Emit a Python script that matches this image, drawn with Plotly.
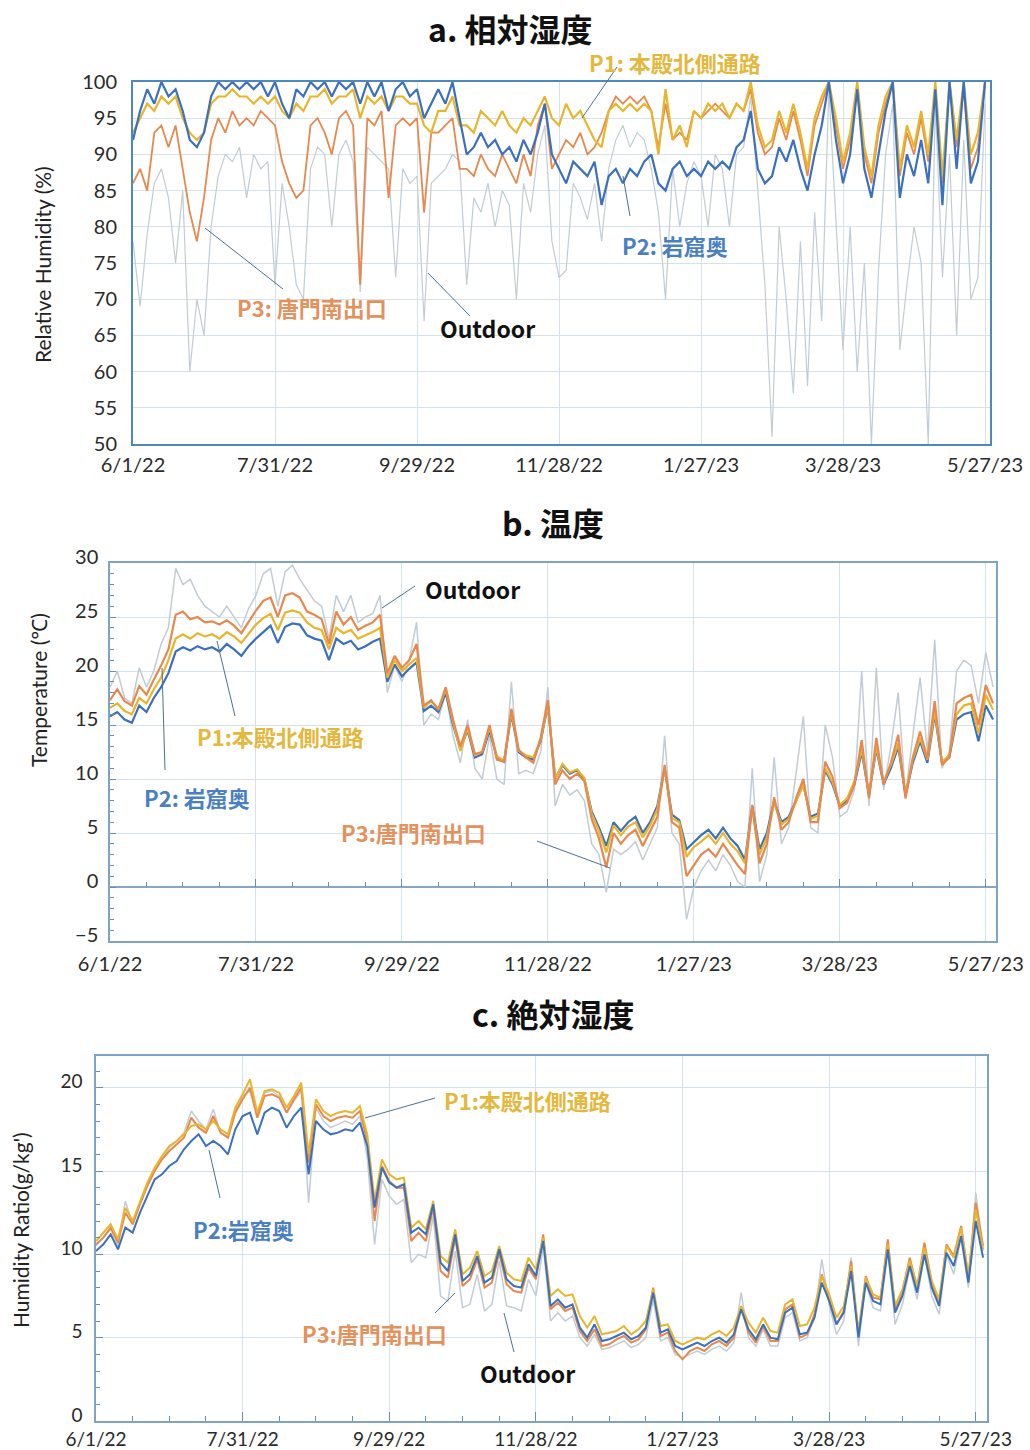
import pandas as pd
import plotly.graph_objects as go

BASE = pd.Timestamp("2022-06-01")
W, H = 1030, 1450

tick_days = [0, 60, 120, 180, 240, 300, 360]
tick_labels = ["6/1/22", "7/31/22", "9/29/22", "11/28/22", "1/27/23", "3/28/23", "5/27/23"]

# ---------------- a. relative humidity (%), every 3 days ----------------
rh_days = list(range(0, 361, 3))
rh_p2 = [92, 96, 99, 97, 100, 98, 99, 96, 92, 91, 93, 98, 100, 99, 100, 99, 100, 99, 100, 98,
         100, 97, 95, 99, 98, 100, 99, 100, 98, 100, 99, 100, 97, 100, 98, 100, 96, 99, 100, 98,
         99, 95, 97, 99, 97, 100, 95,
         90, 91, 93, 91, 92, 90, 91, 89, 92, 90, 93, 97, 90, 88,
         86, 89, 88, 87, 89, 83, 87, 88, 86, 88, 87, 89, 90, 86, 85, 88, 89, 87, 88, 87,
         89, 88, 89, 88, 91, 92, 96,
         88, 86, 87, 91, 89, 92, 88, 85, 90, 94, 100, 92, 86, 90, 99, 88, 84, 90, 96, 100,
         84, 90, 87, 92, 86, 99, 83, 100, 88, 100, 86, 89, 100]
rh_p1 = [93, 95, 97, 96, 98, 97, 98, 95, 93, 92, 93, 97, 98, 98, 99, 98, 98, 97, 98, 97,
         98, 96, 95, 97, 96, 98, 98, 99, 97, 98, 98, 99, 95, 98, 97, 98, 96, 98, 98, 97,
         97, 94, 93, 96, 96, 98, 94,
         94, 93, 96, 95, 94, 96, 94, 93, 95, 94, 96, 98, 95, 94,
         97, 95, 96, 94, 92, 91, 96, 97, 96, 97, 96, 97, 96, 90, 99, 92, 94, 91, 96, 95,
         97, 96, 97, 95, 97, 96, 100,
         94, 91, 92, 96, 93, 97, 93, 88, 95, 98, 100, 95, 89, 93, 100, 91, 87, 94, 98, 100,
         88, 94, 91, 96, 90, 100, 87, 100, 92, 100, 90, 93, 100]
rh_p3 = [86, 88, 85, 93, 94, 91, 94, 88, 82, 78, 84, 92, 95, 93, 96, 94, 95, 94, 96, 95,
         94, 89, 86, 84, 85, 94, 95, 93, 90, 95, 96, 94, 72, 95, 94, 96, 84, 94, 95, 94,
         95, 82, 93, 93, 94, 95, 88,
         88, 87, 90, 88, 87, 90, 88, 86, 90, 87, 94, 97, 88, 90,
         92, 91, 93, 90, 91, 93, 96, 98, 97, 98, 97, 98, 96, 91, 97, 92, 93, 92, 96, 95,
         96, 97, 96, 95, 97, 96, 99,
         93, 90, 91, 95, 92, 96, 92, 87, 94, 97, 100, 94, 88, 92, 99, 90, 86, 93, 97, 100,
         87, 93, 90, 95, 89, 99, 86, 100, 91, 99, 88, 91, 100]
rh_out = [78, 69, 79, 86, 88, 84, 75, 85, 60, 70, 65, 80, 87, 90, 89, 91, 84, 90, 88, 89,
          72, 86, 80, 72, 70, 88, 91, 90, 80, 90, 92, 89, 71, 91, 90, 89, 88, 73, 88, 86,
          87, 67, 86, 87, 88, 90, 89,
          72, 84, 82, 86, 80, 85, 83, 70, 86, 82, 90, 94, 78, 73,
          74, 86, 84, 81, 86, 78, 88, 92, 94, 91, 93, 92, 88, 82, 70, 88, 80, 86, 89, 87,
          80, 90, 88, 80, 90, 91, 98,
          85, 72, 51, 80, 70, 57, 78, 58, 82, 67, 99, 80, 63, 80, 60, 75, 50, 74, 90, 97,
          63, 72, 80, 75, 50, 97, 73, 90, 65, 92, 70, 73, 97]

# ---------------- b. temperature (°C), every 3 days ----------------
t_days = list(range(0, 364, 3))
t_p2 = [15.8, 16.2, 15.5, 15.2, 16.8, 16.2, 17.5, 18.5,
        19.8, 21.8, 22.2, 21.9, 22.3, 22.0, 22.2, 21.8, 22.5, 22.0, 21.4, 22.3,
        23.0, 23.6, 24.2, 22.6, 24.1, 24.4, 24.3, 23.3, 23.0, 22.8,
        21.0, 23.0, 22.5, 22.8, 22.0, 22.3, 22.7, 23.0,
        19.0, 20.6, 19.5, 20.2, 20.8, 16.3, 16.8, 16.2, 18.0, 15.0, 12.8, 14.5, 12.0, 12.3,
        14.5, 12.0, 11.6, 16.0, 12.5, 12.0, 11.8, 13.5,
        16.8, 10.0, 11.3, 10.5, 10.8, 10.0, 7.0, 5.5, 3.8, 6.0, 5.2, 6.0, 6.5, 5.0, 6.0, 7.5,
        11.0, 6.7, 6.2, 3.5, 4.2, 4.8, 5.3, 4.5, 5.5, 4.5, 3.8, 2.5,
        7.5, 3.5, 5.0, 8.0, 6.0, 6.5, 8.0, 9.5, 6.5, 6.8, 10.8, 9.5, 7.5, 8.0, 9.5, 12.5, 8.5,
        12.8, 9.5, 11.0, 13.0, 8.5, 11.5, 13.5, 11.5, 16.0, 11.5, 12.0, 15.5, 16.0, 16.2, 13.5,
        16.8, 15.5]
t_p1 = [16.6, 17.0, 16.3, 16.0, 17.5, 17.0, 18.3, 19.4,
        21.0, 23.0, 23.4, 23.0, 23.5, 23.2, 23.4, 23.0, 23.6, 23.2, 22.6, 23.5,
        24.3, 24.9, 25.3, 23.8, 25.4, 25.6, 25.4, 24.5, 24.0, 23.8,
        22.0, 24.0, 23.5, 23.8, 23.0, 23.3, 23.6, 24.0,
        19.4, 21.0, 20.0, 20.6, 21.2, 16.6, 17.2, 16.5, 18.3, 15.3, 12.6, 14.7, 12.2, 12.5,
        14.8, 12.1, 11.7, 16.2, 12.6, 12.2, 12.0, 13.6,
        16.9, 10.0, 11.4, 10.6, 10.9, 10.1, 6.8, 5.2, 3.2, 5.7, 4.8, 5.6, 6.0, 4.6, 5.7, 7.2,
        11.0, 6.4, 6.0, 2.8, 3.7, 4.2, 4.8, 4.0, 5.0, 4.0, 3.3, 2.2,
        7.3, 3.0, 4.6, 7.8, 5.8, 6.3, 7.9, 9.5, 6.3, 6.6, 11.0, 9.7, 7.6, 8.2, 9.8, 12.8, 8.6,
        13.0, 9.7, 11.3, 13.3, 8.6, 11.8, 13.8, 11.8, 16.3, 11.6, 12.2, 16.0, 16.8, 17.0, 14.2,
        17.8, 16.4]
t_p3 = [17.3, 18.3, 17.2, 16.8, 18.6, 17.8, 19.2, 20.5,
        22.0, 25.2, 25.5, 24.8, 25.0, 24.5, 24.6, 24.3, 24.7, 24.2, 23.5, 24.6,
        25.6, 26.5, 26.8, 25.0, 27.0, 27.2, 26.8, 25.5, 25.2, 24.8,
        22.5, 25.5, 24.3, 25.0, 23.8, 24.2, 24.5, 25.2,
        19.8, 21.4, 20.3, 21.0, 22.5, 16.8, 17.3, 16.4, 18.5, 15.5, 13.0, 15.0, 12.3, 12.5,
        15.0, 11.8, 11.6, 16.5, 12.7, 12.0, 11.5, 13.8,
        17.3, 9.5, 10.8, 10.0, 10.5, 9.8, 6.3, 4.5, 1.8, 5.0, 4.0, 4.8, 5.3, 3.8, 5.2, 6.5,
        11.3, 6.0, 5.5, 1.0, 2.0, 3.0, 3.5, 2.8, 4.0, 3.0, 2.0, 1.2,
        7.6, 2.2, 4.0, 8.3, 5.3, 6.0, 8.2, 10.0, 6.0, 6.0, 11.6, 10.2, 7.3, 7.8, 9.5, 13.6, 8.2,
        13.8, 9.5, 11.5, 14.1, 8.2, 12.0, 14.4, 11.9, 17.2, 11.3, 12.0, 17.0, 17.5, 17.8, 15.0,
        18.7, 17.0]
t_out = [18.5, 20.0, 17.5, 17.0, 20.3, 18.5, 20.0, 22.5,
         24.0, 29.5, 28.0, 28.5, 27.0, 26.0, 25.5, 25.0, 26.0, 25.0, 24.0, 25.8,
         27.0, 29.0, 29.5, 26.0, 29.2, 29.8, 28.5, 27.5, 26.5, 26.0,
         23.0, 27.0, 25.5, 27.0, 24.5, 25.0, 25.3, 27.0,
         18.0, 20.5, 19.0, 21.0, 24.5, 15.0, 16.0, 15.5, 18.0, 14.0, 11.5, 15.5, 11.0, 10.0,
         14.0, 10.0, 9.5, 19.0, 10.5, 10.8, 10.5, 12.5,
         18.5, 7.5, 9.5, 8.5, 9.0, 8.0, 4.0, 3.0, -0.5, 3.5, 3.0, 3.5, 4.2, 2.5, 4.0, 5.5,
         14.0, 5.0, 4.0, -3.0, 0.0, 1.5, 2.5, 1.5, 3.0, 2.0, 0.5, 0.0,
         11.0, 0.5, 3.0, 12.0, 4.0, 5.5, 10.5, 15.8, 5.5, 5.0, 15.0, 12.0, 6.5, 7.0, 9.0, 20.0, 7.5,
         20.3, 9.0, 13.0, 18.0, 8.5, 14.0, 19.4, 12.5, 22.9, 11.0, 12.5, 20.0, 21.0, 20.5, 17.0,
         21.7, 18.5]

# ---------------- c. humidity ratio (g/kg'), every 3 days ----------------
hr_days = list(range(0, 364, 3))
hr_p2 = [10.2, 10.6, 11.2, 10.3, 11.6, 11.3, 12.5, 13.5,
         14.5, 14.8, 15.3, 15.6, 16.3, 16.8, 17.2, 16.5, 16.8, 16.5, 16.0, 17.5,
         18.3, 18.5, 17.2, 18.5, 18.8, 18.6, 17.6, 18.3, 18.8, 14.8,
         18.0, 17.5, 17.2, 17.3, 17.5, 17.4, 17.9, 16.5,
         12.8, 15.2, 14.3, 14.0, 14.2, 11.3, 11.6, 11.2, 13.0, 9.5, 9.0, 11.2, 8.4, 8.8,
         9.9, 8.3, 8.6, 10.3, 8.5, 8.1, 8.0, 9.4,
         8.7, 10.8, 6.9, 7.3, 6.8, 7.0, 5.6, 5.0, 5.8, 4.8, 4.9, 5.1, 5.3, 4.9, 5.1, 5.6,
         7.7, 5.3, 5.5, 4.5, 4.3, 4.5, 4.7, 4.5, 4.8, 5.0, 4.7, 5.2,
         6.7, 5.5, 4.9, 5.8, 5.0, 4.9, 6.5, 6.8, 5.2, 5.3, 6.2, 8.3, 7.2, 5.8, 6.5, 9.0, 5.0,
         8.3, 7.2, 7.0, 10.3, 6.5, 7.5, 9.3, 7.7, 10.0, 8.0, 6.9, 10.1, 9.3, 11.1, 8.3, 12.0, 9.8]
hr_p1 = [10.8, 11.3, 11.8, 10.9, 12.8, 12.0, 13.2, 14.3,
         15.2, 15.9, 16.5, 16.8, 17.2, 17.7, 17.8, 17.5, 18.0, 17.5, 17.2, 18.8,
         19.6, 20.5, 18.5, 19.8, 19.9, 19.7, 18.8, 19.5, 20.3, 16.0,
         19.3, 18.6, 18.3, 18.5, 18.6, 18.5, 18.9, 17.2,
         13.2, 15.7, 14.8, 14.5, 14.6, 11.6, 12.0, 11.5, 13.2, 9.9, 9.5, 11.5, 8.8, 9.2,
         10.2, 8.7, 9.0, 10.5, 8.9, 8.5, 8.4, 9.8,
         9.1, 11.0, 7.5, 7.9, 7.5, 7.6, 6.3, 5.6, 6.3, 5.2, 5.3, 5.4, 5.7, 5.2, 5.5, 6.0,
         7.9, 5.7, 5.8, 4.8, 4.6, 4.8, 5.0, 4.9, 5.2, 5.4, 5.1, 5.6,
         6.9, 5.9, 5.3, 6.2, 5.4, 5.3, 7.0, 7.3, 5.7, 5.8, 6.8, 8.7, 7.6, 6.2, 6.9, 9.3, 5.4,
         8.6, 7.6, 7.4, 10.6, 6.9, 7.9, 9.6, 8.1, 10.4, 8.4, 7.3, 10.5, 9.8, 11.6, 8.7, 12.7, 10.3]
hr_p3 = [10.6, 11.0, 11.6, 10.7, 12.5, 11.8, 13.0, 14.1,
         15.0, 15.7, 16.2, 16.6, 17.0, 18.2, 17.6, 17.3, 18.3, 17.3, 17.0, 18.5,
         19.3, 20.0, 18.2, 19.5, 19.6, 19.4, 18.5, 19.3, 20.0, 15.5,
         19.0, 18.3, 18.0, 18.2, 18.3, 18.2, 18.6, 16.8,
         12.0, 15.3, 14.4, 14.0, 14.0, 10.8, 11.3, 10.8, 12.8, 9.0, 8.6, 11.0, 8.1, 8.5,
         9.7, 8.0, 8.3, 10.1, 8.2, 7.8, 7.7, 9.2,
         8.5, 11.2, 6.7, 7.1, 6.6, 6.8, 5.4, 4.8, 5.5, 4.5, 4.6, 4.9, 5.1, 4.7, 4.9, 5.5,
         8.0, 5.1, 5.3, 4.2, 3.7, 4.2, 4.4, 4.2, 4.6, 4.8, 4.5, 5.0,
         6.8, 5.3, 4.7, 5.7, 4.8, 4.8, 6.7, 7.0, 5.0, 5.2, 6.4, 8.8, 7.4, 5.8, 6.6, 9.6, 5.1,
         8.7, 7.4, 7.3, 10.9, 6.7, 7.8, 9.8, 8.0, 10.7, 8.3, 7.0, 10.6, 9.9, 11.7, 8.6, 13.1, 10.5]
hr_out = [10.5, 11.0, 11.5, 10.5, 13.2, 11.8, 13.0, 14.2,
          15.0, 15.7, 16.4, 16.8, 17.3, 18.6, 18.0, 17.5, 18.7, 17.3, 17.0, 18.6,
          19.5, 19.8, 18.3, 19.7, 19.8, 19.5, 18.5, 19.2, 19.8, 13.1,
          18.8, 18.0, 17.6, 17.8, 18.0, 17.8, 18.3, 15.8,
          10.6, 14.5, 13.5, 13.0, 13.3, 9.5, 10.0, 9.8, 12.3, 7.5, 7.2, 10.2, 6.8, 7.0,
          8.8, 6.6, 7.0, 9.6, 6.9, 6.8, 6.6, 8.5,
          7.5, 10.5, 6.0, 6.5, 6.0, 6.3, 5.0, 4.5, 5.2, 4.3, 4.4, 4.6, 4.8, 4.4, 4.6, 5.0,
          7.3, 4.8, 5.0, 4.0, 3.8, 4.0, 4.2, 4.0, 4.3, 4.5, 4.2, 4.7,
          7.7, 5.0, 4.5, 5.5, 4.5, 4.5, 6.2, 6.5, 4.8, 5.0, 6.2, 9.7, 7.0, 5.2, 6.0, 9.8, 4.5,
          8.3, 6.8, 6.6, 10.3, 5.8, 7.0, 9.2, 7.3, 10.0, 7.5, 6.4, 10.0, 8.8, 11.0, 8.0, 13.7, 10.2]

# ---------------- styling ----------------
C_P1 = "#e8b52c"
C_P2 = "#3b70be"
C_P3 = "#e8884c"
C_OUT = "#c2ccd4"
T_P1 = "#e3b83c"
T_P2 = "#4a7fc2"
T_P3 = "#e4915c"
FRAME = "#4f88ba"
GRID = "#d5e1eb"
TICKF = dict(family="Lato, Noto Sans, sans-serif", size=20, color="#2a2a2a")
TICKF_C = dict(family="Lato, Noto Sans, sans-serif", size=19, color="#2a2a2a")
LBLF = "Noto Sans CJK JP, Noto Sans, sans-serif"


def to_dates(days):
    return [BASE + pd.Timedelta(days=d) for d in days]


def px_x(p):
    return p / W


def px_y(p):
    return 1 - p / H


tick_vals = to_dates(tick_days)

fig = go.Figure()


def add(days, vals, color, width, xa, ya):
    fig.add_trace(go.Scatter(x=to_dates(days), y=vals, mode="lines",
                             line=dict(color=color, width=width),
                             xaxis=xa, yaxis=ya, hoverinfo="skip"))


# panel a
add(rh_days, rh_out, C_OUT, 1.2, "x", "y")
add(rh_days, rh_p3, C_P3, 1.8, "x", "y")
add(rh_days, rh_p1, C_P1, 2.2, "x", "y")
add(rh_days, rh_p2, C_P2, 2.2, "x", "y")
# panel b
add(t_days, t_out, C_OUT, 1.5, "x2", "y2")
add(t_days, t_p2, C_P2, 2.2, "x2", "y2")
add(t_days, t_p1, C_P1, 2.2, "x2", "y2")
add(t_days, t_p3, C_P3, 2.2, "x4", "y2")
# panel c
add(hr_days, hr_out, C_OUT, 1.5, "x3", "y3")
add(hr_days, hr_p3, C_P3, 2.0, "x3", "y3")
add(hr_days, hr_p1, C_P1, 2.0, "x3", "y3")
add(hr_days, hr_p2, C_P2, 2.0, "x3", "y3")


def xrange(end_day):
    return [BASE, BASE + pd.Timedelta(days=end_day)]


DAY_MS = 86400000

common_x = dict(type="date", tickmode="array", tickvals=tick_vals, ticktext=tick_labels,
                showgrid=True, gridcolor=GRID, gridwidth=1, tickfont=TICKF,
                showline=True, linecolor=FRAME, linewidth=2, mirror=True,
                zeroline=False, ticklabelstandoff=2, automargin=False)
common_y = dict(showgrid=True, gridcolor=GRID, gridwidth=1, tickfont=TICKF,
                showline=True, linecolor=FRAME, linewidth=2, mirror=True, dtick=5,
                automargin=False)

fig.update_layout(
    width=W, height=H, margin=dict(l=0, r=0, t=0, b=0, autoexpand=False),
    paper_bgcolor="white", plot_bgcolor="white", showlegend=False,
    xaxis=dict(common_x, domain=[px_x(133), px_x(990)], anchor="y", range=xrange(362.1), ticks=""),
    yaxis=dict(common_y, domain=[px_y(444), px_y(82)], anchor="x", range=[50, 100],
               ticks="", zeroline=False, ticklabelstandoff=10),
    xaxis2=dict(common_x, domain=[px_x(110), px_x(996)], anchor="y2", range=xrange(364.2), ticks="",
                linecolor="#7ea3c3", linewidth=1.5, ticklabelstandoff=4),
    yaxis2=dict(common_y, domain=[px_y(941), px_y(563)], anchor="x2", range=[-5, 30],
                ticks="inside", ticklen=6, tickcolor="#6b8fae",
                minor=dict(dtick=1, ticks="inside", ticklen=4, tickcolor="#6b8fae"),
                zeroline=True, zerolinecolor="#8aa6bf", zerolinewidth=1.5,
                linecolor="#7ea3c3", linewidth=1.5, ticklabelstandoff=6, ticklabelshift=-6),
    xaxis4=dict(type="date", overlaying="x2", matches="x2", anchor="free", position=px_y(887),
                showgrid=False, showline=False, showticklabels=False, zeroline=False,
                automargin=False,
                tickmode="array", tickvals=tick_vals, ticks="inside", ticklen=8, tickcolor="#6b8fae",
                minor=dict(dtick=15 * DAY_MS, tick0=BASE, ticks="inside", ticklen=5,
                           tickcolor="#6b8fae", showgrid=False)),
    xaxis3=dict(common_x, domain=[px_x(96), px_x(987)], anchor="y3", range=xrange(364.6),
                ticks="inside", ticklen=9, tickcolor="#6b8fae", tickfont=TICKF_C,
                ticklabelstandoff=0,
                minor=dict(dtick=15 * DAY_MS, tick0=BASE, ticks="inside", ticklen=5,
                           tickcolor="#6b8fae", showgrid=False),
                linecolor="#7ea3c3", linewidth=1.5),
    yaxis3=dict(common_y, domain=[px_y(1421), px_y(1056)], anchor="x3", range=[0, 21.9],
                ticks="inside", ticklen=7, tickcolor="#6b8fae", tickfont=TICKF_C,
                minor=dict(dtick=1, ticks="inside", ticklen=4, tickcolor="#6b8fae"),
                zeroline=False, linecolor="#7ea3c3", linewidth=1.5, ticklabelstandoff=8,
                ticklabelshift=-6),
)

# titles
for txt, cx, cy in [("a. 相対湿度", 510, 28), ("b. 温度", 553, 522), ("c. 絶対湿度", 553, 1013)]:
    fig.add_annotation(xref="paper", yref="paper", x=px_x(cx), y=px_y(cy), text="<b>" + txt + "</b>",
                       showarrow=False, font=dict(family=LBLF, size=32, color="#111111"),
                       xanchor="center", yanchor="middle")

# y-axis titles
for txt, cx, cy in [("Relative Humidity (%)", 42, 265), ("Temperature (℃)", 38, 690),
                    ("Humidity Ratio(g/kg')", 20, 1230)]:
    fig.add_annotation(xref="paper", yref="paper", x=px_x(cx), y=px_y(cy), text=txt,
                       textangle=-90, showarrow=False,
                       font=dict(family="Lato, Noto Sans, sans-serif", size=21, color="#222222"),
                       xanchor="center", yanchor="middle")

# series labels
labels = [
    ("P1: 本殿北側通路", 675, 62, T_P1), ("P2: 岩窟奥", 675, 245, T_P2),
    ("P3: 唐門南出口", 312, 307, T_P3), ("Outdoor", 488, 328, "#111111"),
    ("Outdoor", 473, 589, "#111111"), ("P1:本殿北側通路", 280, 736, T_P1),
    ("P2: 岩窟奥", 197, 797, T_P2), ("P3:唐門南出口", 413, 832, T_P3),
    ("P1:本殿北側通路", 527, 1100, T_P1), ("P2:岩窟奥", 243, 1229, T_P2),
    ("P3:唐門南出口", 374, 1333, T_P3), ("Outdoor", 528, 1373, "#111111"),
]
for txt, cx, cy, col in labels:
    size = 23 if txt == "Outdoor" else 22
    fig.add_annotation(xref="paper", yref="paper", x=px_x(cx), y=px_y(cy), text="<b>" + txt + "</b>",
                       showarrow=False, font=dict(family=LBLF, size=size, color=col),
                       xanchor="center", yanchor="middle")

# leader lines
leaders = [
    (617, 67, 582, 118), (630, 216, 623, 176), (283, 289, 205, 228), (470, 316, 428, 273),
    (415, 586, 382, 608), (235, 716, 217, 641), (165, 770, 162, 668), (537, 841, 610, 868),
    (435, 1098, 365, 1118), (220, 1198, 209, 1150), (435, 1313, 455, 1293), (514, 1352, 504, 1313),
]
for x0, y0, x1, y1 in leaders:
    fig.add_shape(type="line", xref="paper", yref="paper", x0=px_x(x0), y0=px_y(y0),
                  x1=px_x(x1), y1=px_y(y1), line=dict(color="#4d7090", width=1))

fig.write_html("out.html", config={"displayModeBar": False},
               post_script="document.body.style.margin='0px';document.body.style.padding='0px';"
                           "document.body.style.overflow='hidden';")
